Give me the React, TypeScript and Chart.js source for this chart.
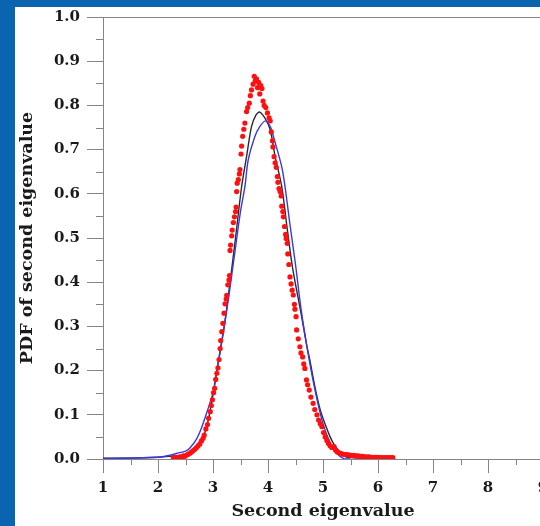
import React, { useEffect, useRef } from "react";
import { Chart, registerables } from "chart.js";

Chart.register(...registerables);

const xTickValues = [1, 2, 3, 4, 5, 6, 7, 8, 9];
const yTickLabels = ["0.0", "0.1", "0.2", "0.3", "0.4", "0.5", "0.6", "0.7", "0.8", "0.9", "1.0"];

const redX = [
  2.28, 2.31, 2.34, 2.37, 2.40, 2.43, 2.46, 2.49, 2.52, 2.55, 2.58, 2.61, 2.64, 2.67, 2.70, 2.73, 2.76, 2.79, 2.82, 2.84,
  2.87, 2.90, 2.92, 2.95, 2.97, 2.99, 3.01, 3.03, 3.05, 3.07, 3.09, 3.11, 3.13, 3.14, 3.16, 3.18, 3.20, 3.22, 3.24, 3.25,
  3.27, 3.29, 3.30, 3.31, 3.32, 3.34, 3.35, 3.37, 3.39, 3.41, 3.42, 3.43, 3.44, 3.46, 3.48, 3.49, 3.51, 3.52, 3.54, 3.56,
  3.58, 3.61, 3.63, 3.66, 3.68, 3.70, 3.73, 3.75, 3.77, 3.79, 3.81, 3.83, 3.85, 3.87, 3.89, 3.91, 3.93, 3.96, 3.99, 4.02,
  4.04, 4.06, 4.08, 4.09, 4.11, 4.13, 4.15, 4.17, 4.18, 4.20, 4.22, 4.24, 4.25, 4.27, 4.28, 4.30, 4.32, 4.33, 4.35, 4.36,
  4.38, 4.40, 4.42, 4.44, 4.46, 4.48, 4.49, 4.51, 4.52, 4.55, 4.58, 4.60, 4.63, 4.65, 4.67, 4.70, 4.72, 4.75, 4.78, 4.82,
  4.85, 4.89, 4.92, 4.95, 4.98, 5.01, 5.04, 5.07, 5.10, 5.13, 5.16, 5.20, 5.23, 5.26, 5.29, 5.32, 5.36, 5.40, 5.44, 5.48,
  5.52, 5.56, 5.60, 5.64, 5.68, 5.72, 5.76, 5.80, 5.84, 5.88, 5.92, 5.96, 6.00, 6.04, 6.08, 6.12, 6.16, 6.20, 6.24, 6.27,
];
const redY = [
  0.003, 0.002, 0.004, 0.003, 0.005, 0.004, 0.007, 0.006, 0.009, 0.011, 0.013, 0.016, 0.019, 0.022, 0.026, 0.030, 0.034, 0.041, 0.047, 0.054,
  0.068, 0.078, 0.092, 0.107, 0.121, 0.134, 0.150, 0.160, 0.180, 0.194, 0.206, 0.225, 0.250, 0.268, 0.288, 0.307, 0.330, 0.351, 0.362, 0.370,
  0.394, 0.405, 0.415, 0.472, 0.484, 0.505, 0.518, 0.535, 0.548, 0.560, 0.570, 0.605, 0.624, 0.632, 0.645, 0.655, 0.690, 0.708, 0.730, 0.746,
  0.760, 0.786, 0.795, 0.805, 0.822, 0.835, 0.848, 0.866, 0.856, 0.860, 0.840, 0.852, 0.826, 0.845, 0.838, 0.810, 0.800, 0.795, 0.783, 0.772,
  0.765, 0.740, 0.720, 0.706, 0.684, 0.670, 0.660, 0.639, 0.626, 0.612, 0.605, 0.595, 0.572, 0.560, 0.548, 0.526, 0.508, 0.499, 0.488, 0.464,
  0.440, 0.412, 0.396, 0.382, 0.371, 0.350, 0.339, 0.322, 0.292, 0.272, 0.254, 0.240, 0.231, 0.215, 0.205, 0.179, 0.168, 0.156, 0.140, 0.126,
  0.112, 0.100, 0.088, 0.080, 0.073, 0.060, 0.050, 0.042, 0.035, 0.030, 0.026, 0.028, 0.020, 0.016, 0.014, 0.013, 0.011, 0.010, 0.010, 0.009,
  0.008, 0.008, 0.007, 0.007, 0.006, 0.006, 0.005, 0.005, 0.005, 0.004, 0.004, 0.004, 0.004, 0.003, 0.003, 0.003, 0.003, 0.003, 0.003, 0.003,
];

const blackX = [1.0, 1.5, 2.0, 2.2, 2.4, 2.5, 2.64, 2.75, 2.88, 3.0, 3.07, 3.15, 3.22, 3.3, 3.4, 3.52, 3.61, 3.7, 3.78, 3.85, 3.95, 4.04, 4.13, 4.25, 4.35, 4.45, 4.6, 4.7, 4.76, 4.85, 4.95, 5.05, 5.13, 5.2, 5.28, 5.4, 5.5, 6.0, 6.3];
const blackY = [0.002, 0.002, 0.004, 0.006, 0.008, 0.010, 0.016, 0.030, 0.070, 0.145, 0.200, 0.260, 0.314, 0.39, 0.49, 0.616, 0.684, 0.752, 0.778, 0.785, 0.770, 0.745, 0.684, 0.616, 0.52, 0.43, 0.33, 0.26, 0.224, 0.165, 0.111, 0.075, 0.05, 0.033, 0.02, 0.006, 0.003, 0.001, 0.001];

const blueX = [1.0, 2.0, 2.2, 2.35, 2.5, 2.58, 2.7, 2.79, 2.9, 3.0, 3.1, 3.2, 3.3, 3.4, 3.5, 3.58, 3.64, 3.76, 3.85, 3.96, 4.05, 4.1, 4.25, 4.31, 4.4, 4.5, 4.6, 4.7, 4.8, 4.9, 5.0, 5.1, 5.2, 5.3, 5.38, 5.5];
const blueY = [0.001, 0.004, 0.008, 0.013, 0.018, 0.025, 0.045, 0.070, 0.110, 0.150, 0.220, 0.295, 0.38, 0.47, 0.56, 0.616, 0.676, 0.729, 0.752, 0.765, 0.75, 0.729, 0.661, 0.616, 0.53, 0.44, 0.34, 0.26, 0.19, 0.13, 0.08, 0.045, 0.02, 0.007, 0.001, 0.0];

const AXIS_COLOR = "#858585";
const FONT_FAMILY = "'DejaVu Serif', serif";

const framePlugin = {
  id: "frameMinorTicks",
  afterDraw(chart: any) {
    const { ctx, chartArea } = chart;
    const xs = chart.scales.x;
    const ys = chart.scales.y;
    ctx.save();
    ctx.strokeStyle = AXIS_COLOR;
    ctx.lineWidth = 1;
    ctx.beginPath();
    ctx.moveTo(chartArea.left, Math.round(chartArea.top) + 0.5);
    ctx.lineTo(chartArea.right + 20, Math.round(chartArea.top) + 0.5);
    for (let i = 0; i < xTickValues.length - 1; i++) {
      const v = (xTickValues[i] + xTickValues[i + 1]) / 2;
      const px = Math.round(xs.getPixelForValue(v)) + 0.5;
      ctx.moveTo(px, chartArea.bottom);
      ctx.lineTo(px, chartArea.bottom + 6);
    }
    for (let i = 0; i < yTickLabels.length - 1; i++) {
      const v = (parseFloat(yTickLabels[i]) + parseFloat(yTickLabels[i + 1])) / 2;
      const py = Math.round(ys.getPixelForValue(v)) + 0.5;
      ctx.moveTo(chartArea.left - 7, py);
      ctx.lineTo(chartArea.left, py);
    }
    ctx.stroke();
    ctx.restore();
  },
};

export default function App() {
  const ref = useRef<HTMLCanvasElement | null>(null);

  useEffect(() => {
    if (!ref.current) return;
    const toPts = (xs: number[], ys: number[]) => xs.map((x, i) => ({ x, y: ys[i] }));
    const chart = new Chart(ref.current, {
      type: "scatter",
      data: {
        datasets: [
          {
            label: "Simulation",
            data: toPts(redX, redY),
            backgroundColor: "#ff1010",
            borderWidth: 0,
            pointRadius: 2.6,
            showLine: false,
            order: 0,
          },
          {
            label: "Fit",
            data: toPts(blackX, blackY),
            borderColor: "#2a2a2a",
            borderWidth: 1.4,
            pointRadius: 0,
            showLine: true,
            tension: 0.3,
            order: 2,
          },
          {
            label: "Approximation",
            data: toPts(blueX, blueY),
            borderColor: "#3838e4",
            borderWidth: 1.4,
            pointRadius: 0,
            showLine: true,
            tension: 0.3,
            order: 1,
          },
        ],
      },
      options: {
        animation: false,
        responsive: false,
        devicePixelRatio: 1,
        layout: { padding: { left: 0, top: 10, right: 17, bottom: 0 } },
        plugins: { legend: { display: false }, tooltip: { enabled: false } },
        scales: {
          x: {
            type: "linear",
            min: 1,
            max: 9,
            afterFit: (s: any) => {
              s.height = 67;
              s.paddingLeft = 0;
              s.paddingRight = 0;
            },
            afterBuildTicks: (s: any) => {
              s.ticks = xTickValues.map((v) => ({ value: v }));
            },
            ticks: {
              callback: (v: any) => String(v),
              color: "#1a1a1a",
              font: { family: FONT_FAMILY, size: 15, weight: "bold" },
              padding: 6,
              maxRotation: 0,
              autoSkip: false,
            },
            grid: { drawOnChartArea: false, drawTicks: true, tickLength: 14, color: AXIS_COLOR },
            border: { display: true, color: AXIS_COLOR },
            title: {
              display: true,
              text: "Second eigenvalue",
              color: "#1a1a1a",
              font: { family: FONT_FAMILY, size: 17.5, weight: "bold" },
              padding: { top: 0, bottom: 4 },
            },
          },
          y: {
            type: "linear",
            min: 0,
            max: 1,
            afterFit: (s: any) => {
              s.width = 88;
              s.paddingTop = 0;
              s.paddingBottom = 0;
            },
            afterBuildTicks: (s: any) => {
              s.ticks = yTickLabels.map((l) => ({ value: parseFloat(l) }));
            },
            ticks: {
              callback: (v: any) => Number(v).toFixed(1),
              color: "#1a1a1a",
              font: { family: FONT_FAMILY, size: 15, weight: "bold" },
              padding: 7,
              autoSkip: false,
            },
            grid: { drawOnChartArea: false, drawTicks: true, tickLength: 16, color: AXIS_COLOR },
            border: { display: true, color: AXIS_COLOR },
            title: {
              display: true,
              text: "PDF of second eigenvalue",
              color: "#1a1a1a",
              font: { family: FONT_FAMILY, size: 17.5, weight: "bold" },
              padding: { top: 2, bottom: 0 },
            },
          },
        },
      },
      plugins: [framePlugin],
    });
    return () => chart.destroy();
  }, []);

  return (
    <div
      style={{
        position: "fixed",
        left: 0,
        top: 0,
        width: 540,
        height: 526,
        overflow: "hidden",
        background: "#0b64af",
      }}
    >
      <div
        style={{
          position: "absolute",
          left: 15,
          top: 7,
          width: 545,
          height: 519,
          background: "#ffffff",
          overflow: "hidden",
        }}
      >
        <canvas ref={ref} width={545} height={519} style={{ display: "block", width: 545, height: 519 }} />
      </div>
    </div>
  );
}
